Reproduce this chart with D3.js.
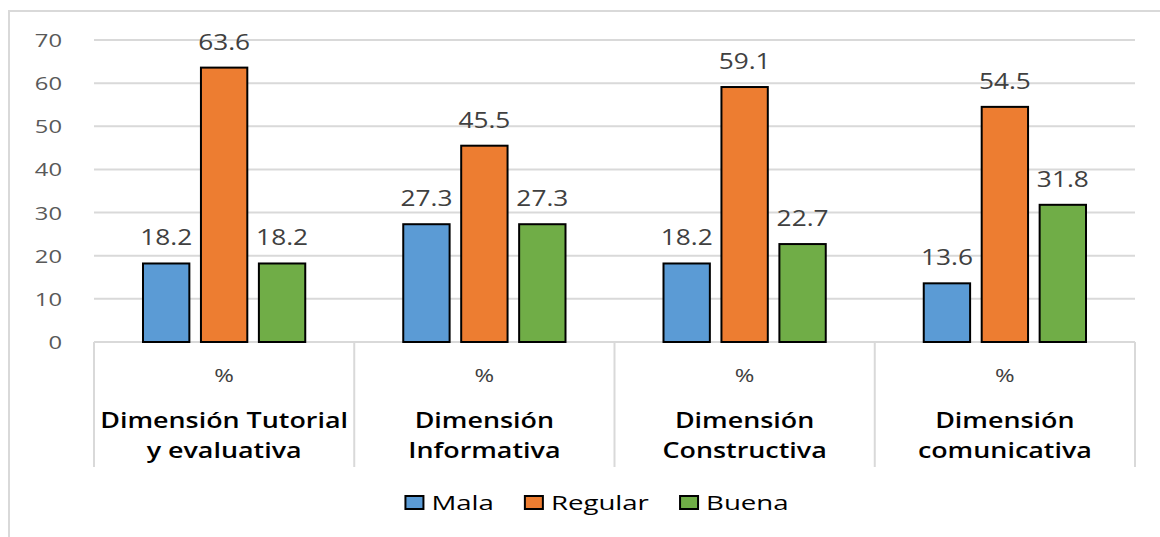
<!DOCTYPE html>
<html>
<head>
<meta charset="utf-8">
<script src="https://cdn.jsdelivr.net/npm/d3@7"></script>
<style>
  body { margin: 0; background: #fff; }
  text { font-family: "Open Sans", "Noto Sans", sans-serif; }
</style>
</head>
<body>
<div id="chart"></div>
<script>
const width = 1160;
const height = 537;

const categories = [
    ["Dimensión Tutorial", "y evaluativa"],
    ["Dimensión", "Informativa"],
    ["Dimensión", "Constructiva"],
    ["Dimensión", "comunicativa"]
];
const seriesNames = ["Mala", "Regular", "Buena"];
const seriesColors = ["#5b9bd5", "#ed7d31", "#70ad47"];
const mala = [18.2, 27.3, 18.2, 13.6];
const regular = [63.6, 45.5, 59.1, 54.5];
const buena = [18.2, 27.3, 22.7, 31.8];
const yTicks = [0, 10, 20, 30, 40, 50, 60, 70];

const series = [mala, regular, buena];
const margin = { left: 94, right: 25, top: 40, bottom: 195 };
const stretch = 1.28; // the source picture is stretched sideways

// place text at (x, y) and widen it horizontally
function place(sel, fx, fy, s) {
    sel.attr("transform", (d, i) => `translate(${fx(d, i)},${fy(d, i)}) scale(${s},1)`);
}

const svg = d3.select("#chart")
    .append("svg")
    .attr("width", width)
    .attr("height", height);

// outer chart border
svg.append("path")
    .attr("d", `M9,${height + 5}V11H${width + 5}`)
    .attr("fill", "none")
    .attr("stroke", "#d9d9d9")
    .attr("stroke-width", 2);

const x0 = d3.scaleBand()
    .domain(d3.range(categories.length))
    .range([margin.left, width - margin.right]);

const x1 = d3.scaleBand()
    .domain(d3.range(seriesNames.length))
    .range([49, x0.bandwidth() - 49])
    .paddingInner(0.2);

const y = d3.scaleLinear()
    .domain([0, 70])
    .range([342, 40]);

// gridlines
svg.append("g")
    .selectAll("line")
    .data(yTicks.filter(d => d > 0))
    .enter().append("line")
    .attr("x1", margin.left)
    .attr("x2", width - margin.right)
    .attr("y1", d => y(d))
    .attr("y2", d => y(d))
    .attr("stroke", "#d9d9d9")
    .attr("stroke-width", 2);

// y tick labels
svg.append("g")
    .selectAll("text")
    .data(yTicks)
    .enter().append("text")
    .call(place, () => 62, d => y(d) + 7, 1.25)
    .attr("text-anchor", "end")
    .attr("fill", "#595959")
    .attr("font-size", 19)
    .text(d => d);

// category table
const table = svg.append("g");
table.append("line")
    .attr("x1", margin.left).attr("x2", width - margin.right)
    .attr("y1", y(0)).attr("y2", y(0))
    .attr("stroke", "#d9d9d9").attr("stroke-width", 2);

table.selectAll("line.div")
    .data(d3.range(categories.length + 1))
    .enter().append("line")
    .attr("class", "div")
    .attr("x1", i => i < categories.length ? x0(i) : x0.range()[1])
    .attr("x2", i => i < categories.length ? x0(i) : x0.range()[1])
    .attr("y1", y(0))
    .attr("y2", 467)
    .attr("stroke", "#d9d9d9")
    .attr("stroke-width", 2);

const catLabel = table.selectAll("g.cat")
    .data(categories)
    .enter().append("g")
    .attr("class", "cat")
    .attr("transform", (d, i) => `translate(${x0(i) + x0.bandwidth() / 2},0)`);

catLabel.append("text")
    .call(place, () => 0, () => 382, 1.25)
    .attr("text-anchor", "middle")
    .attr("fill", "#404040")
    .attr("font-size", 19)
    .text("%");

catLabel.each(function(d) {
    d3.select(this).selectAll("text.line")
        .data(d)
        .enter().append("text")
        .attr("class", "line")
        .call(place, () => 0, (t, j) => 428 + j * 30, stretch)
        .attr("text-anchor", "middle")
        .attr("fill", "#000")
        .attr("font-size", 21)
        .attr("font-weight", 600)
        .text(t => t);
});

// bars
const groups = svg.append("g")
    .selectAll("g")
    .data(categories)
    .enter().append("g")
    .attr("transform", (d, i) => `translate(${x0(i)},0)`);

groups.each(function(d, i) {
    const g = d3.select(this);
    const vals = series.map((s, k) => ({ k: k, v: s[i] }));
    g.selectAll("rect")
        .data(vals)
        .enter().append("rect")
        .attr("x", e => x1(e.k))
        .attr("y", e => y(e.v))
        .attr("width", x1.bandwidth())
        .attr("height", e => y(0) - y(e.v))
        .attr("fill", e => seriesColors[e.k])
        .attr("stroke", "#000")
        .attr("stroke-width", 2);
    g.selectAll("text")
        .data(vals)
        .enter().append("text")
        .call(place, e => x1(e.k) + x1.bandwidth() / 2, e => y(e.v) - 18, 1.25)
        .attr("text-anchor", "middle")
        .attr("fill", "#404040")
        .attr("font-size", 21)
        .text(e => e.v.toFixed(1));
});

// legend
const legend = svg.append("g");
const items = legend.selectAll("g")
    .data(seriesNames)
    .enter().append("g");
items.append("rect")
    .attr("width", 18).attr("height", 13)
    .attr("y", -7)
    .attr("fill", (d, i) => seriesColors[i])
    .attr("stroke", "#000")
    .attr("stroke-width", 2);
items.append("text")
    .call(place, () => 26, () => 7, 1.38)
    .attr("fill", "#000")
    .attr("font-size", 20)
    .text(d => d);

let offsets = [];
let cursor = 0;
items.each(function() {
    offsets.push(cursor);
    cursor += this.getBBox().width + 31;
});
const totalW = cursor - 31;
items.attr("transform", (d, i) => `translate(${597 - totalW / 2 + offsets[i]},503)`);
</script>
</body>
</html>
